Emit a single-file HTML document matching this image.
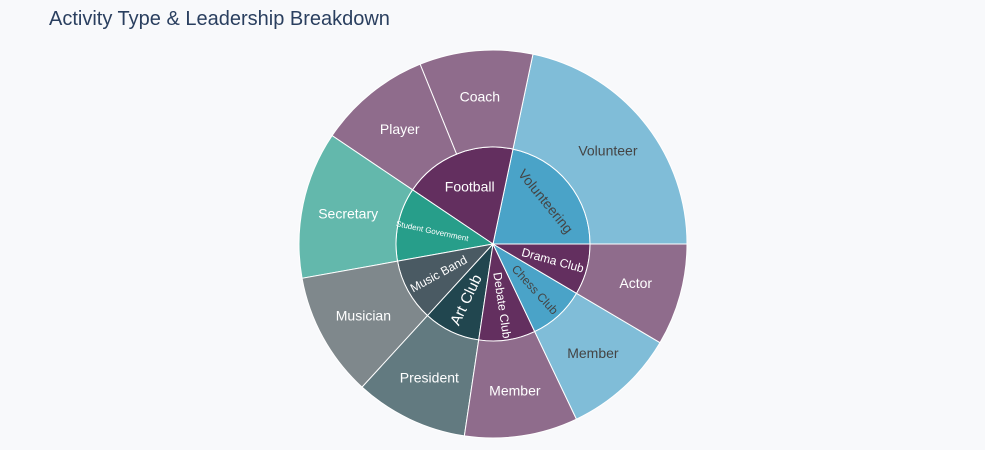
<!DOCTYPE html>
<html><head><meta charset="utf-8"><style>
body{margin:0;background:#f8f9fb;}
svg{display:block;font-family:"Liberation Sans",sans-serif;}
</style></head><body>
<svg id="chart" width="985" height="450">
<rect width="985" height="450" fill="#f8f9fb"/>
<text x="49" y="25" font-size="20" fill="#2a3f5f">Activity Type &amp; Leadership Breakdown</text>
<g id="slices"></g>
</svg>
<script>
const activities = ["Volunteering","Football","Student Government","Music Band","Art Club","Debate Club","Chess Club","Drama Club"];
const roles = [["Volunteer"],["Coach","Player"],["Secretary"],["Musician"],["President"],["Member"],["Member"],["Actor"]];
const roleValues = [[23],[10,10],[13],[11],[10],[10],[10],[9]];
const innerColors = ["#4aa3c8","#632f5f","#279e8a","#4a5a63","#21464f","#632f5f","#4aa3c8","#632f5f"];
const outerColors = ["#80bdd8","#8f6c8c","#63b8ac","#7f888c","#627a80","#8f6c8c","#80bdd8","#8f6c8c"];
const outerTextDark = [true,false,false,false,false,false,true,false];
const innerTextDark = [true,false,false,false,false,false,true,false];
const innerModes = ["t","h","r","r","r","r","r","r"];
const innerSizes = [14,14,8,12,15,12,12,12];

const cx=493, cy=244, r0=97, r1=194;
const g=document.getElementById('slices');
const NS="http://www.w3.org/2000/svg";
const total=roleValues.flat().reduce((a,b)=>a+b,0);
function pt(r,a){const t=a*Math.PI/180;return [cx+r*Math.cos(t),cy-r*Math.sin(t)];}
function arc(ri,ro,a0,a1){
  const [x0,y0]=pt(ro,a0),[x1,y1]=pt(ro,a1),large=(a1-a0)>180?1:0;
  if(ri===0){return `M${cx},${cy}L${x0},${y0}A${ro},${ro} 0 ${large} 0 ${x1},${y1}Z`;}
  const [x2,y2]=pt(ri,a1),[x3,y3]=pt(ri,a0);
  return `M${x0},${y0}A${ro},${ro} 0 ${large} 0 ${x1},${y1}L${x2},${y2}A${ri},${ri} 0 ${large} 1 ${x3},${y3}Z`;
}
function txt(x,y,s,size,fill,rot){
  const t=document.createElementNS(NS,'text');
  t.setAttribute('x',x);t.setAttribute('y',y);
  t.setAttribute('font-size',size);t.setAttribute('fill',fill);
  t.setAttribute('text-anchor','middle');t.setAttribute('dominant-baseline','central');
  if(rot)t.setAttribute('transform',`rotate(${rot} ${x} ${y})`);
  t.textContent=s;g.appendChild(t);return t;
}
let a=0;
const labels=[];
activities.forEach((act,i)=>{
  const sum=roleValues[i].reduce((p,q)=>p+q,0);
  const span=sum/total*360, a0=a, a1=a+span;
  const p=document.createElementNS(NS,'path');
  p.setAttribute('d',arc(0,r0,a0,a1));p.setAttribute('fill',innerColors[i]);
  p.setAttribute('stroke','#fff');p.setAttribute('stroke-width','1');
  
  
  g.appendChild(p);
  const mid=(a0+a1)/2;let rot=0;
  if(innerModes[i]==='t'){rot=90-mid;}else if(innerModes[i]==='r'){rot=-mid;}
  while(rot>90)rot-=180;while(rot<-90)rot+=180;
  const [lx,ly]=pt(i===0?68:62,mid);
  labels.push([lx,ly,act,innerSizes[i],innerTextDark[i]?'#444':'#fff',rot,'label-'+act.toLowerCase().replace(/ /g,'-')]);
  let b=a0;
  roles[i].forEach((role,j)=>{
    const s=roleValues[i][j]/total*360;
    const q=document.createElementNS(NS,'path');
    q.setAttribute('d',arc(r0,r1,b,b+s));q.setAttribute('fill',outerColors[i]);
    q.setAttribute('stroke','#fff');q.setAttribute('stroke-width','1');
    
    
    g.appendChild(q);
    const [ox,oy]=pt(148,b+s/2);
    labels.push([ox,oy,role,14,outerTextDark[i]?'#444':'#fff',0,'label-'+act.toLowerCase().replace(/ /g,'-')+'-'+role.toLowerCase()]);
    b+=s;
  });
  a=a1;
});
labels.forEach(l=>{
  const t=txt(l[0],l[1],l[2],l[3],l[4],l[5]);
  
  
});
</script>
</body></html>
